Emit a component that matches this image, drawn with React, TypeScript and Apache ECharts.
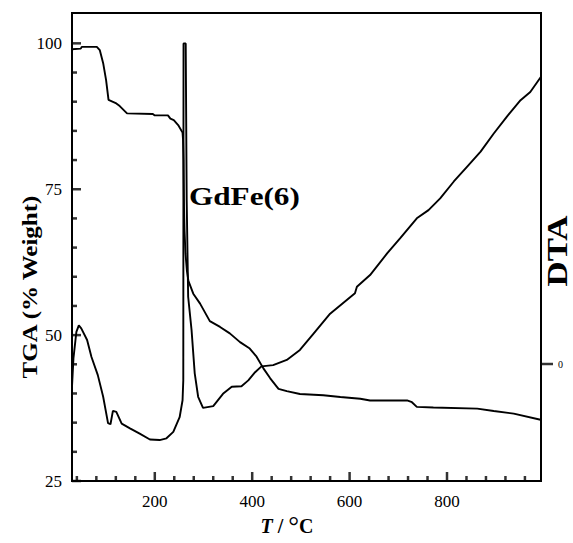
import { useEffect, useRef } from "react";
import * as echarts from "echarts";

const SERIF = "'Liberation Serif', 'Times New Roman', serif";

// Temperature axis ticks (°C)
const xMajorTicks = [200, 400, 600, 800];
const xMinorTicks = [40, 80, 120, 160, 240, 280, 320, 360, 440, 480, 520, 560, 640, 680, 720, 760, 840, 880, 920, 960];

// TGA axis ticks (% weight)
const tgaMajorTicks = [25, 50, 75, 100];
const tgaMinorTicks = [30, 35, 40, 45, 55, 60, 65, 70, 80, 85, 90, 95];

// DTA axis ticks (arbitrary units)
const dtaTicks = [0];

// TGA curve: temperature (°C) and remaining weight (%)
const tgaTemp = [
  30, 48, 50, 81, 87, 94, 100, 105, 121, 128, 143, 196, 200, 227, 232, 239, 248, 257,
  258, 259, 259.5, 260, 261, 263, 266, 269, 279, 293, 313, 334, 354, 375, 395, 409,
  423, 437, 454, 471, 498, 546, 581, 622, 642, 718, 728, 738, 772, 862, 896, 937, 992,
];
const tgaWeight = [
  99.0, 99.1, 99.4, 99.4, 98.85, 96.6, 93.7, 90.3, 89.7, 89.25, 88.0, 87.9, 87.65, 87.65, 87.1, 86.85, 86.0, 84.7,
  83.5, 80.0, 76.0, 72.0, 68.0, 64.0, 61.0, 59.3, 57.1, 55.4, 52.4, 51.4, 50.3, 48.8, 47.7, 46.3,
  44.3, 42.6, 40.8, 40.4, 39.9, 39.7, 39.4, 39.1, 38.8, 38.8, 38.5, 37.7, 37.6, 37.4, 37.0, 36.55, 35.5,
];

// DTA curve: temperature (°C) and signal (arb. units)
const dtaTemp = [
  30, 33, 37, 39, 44, 49, 61, 70, 83, 94, 104, 109, 114, 121, 132, 149, 169, 190, 210, 224,
  238, 251, 257, 258.5, 259, 263.5, 265.5, 268.5, 275.5, 282, 289, 299, 320, 340, 358, 378,
  392, 406, 419, 443, 471, 498, 526, 560, 611, 615, 642, 677, 704, 738, 762, 786, 814, 841,
  869, 896, 923, 951, 971, 993,
];
const dtaSignal = [
  -3.9, 1.0, 4.0, 5.5, 6.6, 6.1, 4.1, 1.2, -1.9, -5.6, -10.1, -10.3, -8.0, -8.2, -10.2, -11.0, -11.9, -12.9, -13.0, -12.7,
  -11.6, -9.1, -6.2, -2.8, 54.8, 54.8, 28.0, 11.5, 5.8, -1.6, -5.6, -7.5, -7.2, -5.1, -3.9, -3.8,
  -2.8, -1.4, -0.4, -0.2, 0.7, 2.4, 5.2, 8.6, 12.1, 13.2, 15.2, 18.9, 21.5, 24.9, 26.3, 28.3, 31.2, 33.7,
  36.3, 39.4, 42.3, 45.1, 46.5, 49.1,
];

const pairs = (xs: number[], ys: number[]) => xs.map((x, i) => [x, ys[i]]);

const BLACK = "#000";
const X_MIN = 30;
const X_MAX = 993;
const TGA_MIN = 25;
const TGA_MAX = 105.2;
const DTA_MIN = -20;
const DTA_MAX = 60;

type TickSide = "bottom" | "left" | "right";

// Tick marks as thin rectangle symbols anchored on the axis lines,
// placed through the axes' own scales and pushed to one side of the line.
function tickSeries(values: number[], side: TickSide, length: number) {
  const data = values.map((v) =>
    side === "bottom" ? [v, TGA_MIN] : side === "left" ? [X_MIN, v] : [X_MAX, v]
  );
  const vertical = side === "bottom";
  const thickness = 2.5;
  return {
    type: "scatter",
    xAxisIndex: 0,
    yAxisIndex: side === "right" ? 2 : 0,
    clip: false,
    silent: true,
    z: 5,
    data,
    symbol: "rect",
    symbolSize: vertical ? [thickness, length] : [length, thickness],
    symbolOffset: vertical ? [0, -length / 2] : [length / 2, 0],
    itemStyle: { color: BLACK },
  };
}

export default function App() {
  const ref = useRef<HTMLDivElement>(null);

  useEffect(() => {
    if (!ref.current) return;
    const chart = echarts.init(ref.current, undefined, { renderer: "svg" });

    const noSplit = { show: false };
    const noTick = { show: false };

    chart.setOption({
      animation: false,
      backgroundColor: "#fff",
      grid: {
        left: 72,
        right: 32,
        top: 13,
        bottom: 62,
        show: true,
        borderColor: BLACK,
        borderWidth: 2,
        backgroundColor: "transparent",
      },
      xAxis: [
        {
          type: "value",
          min: X_MIN,
          max: X_MAX,
          position: "bottom",
          axisLine: { show: true, onZero: false, lineStyle: { color: BLACK, width: 2 } },
          axisTick: noTick,
          axisLabel: {
            customValues: xMajorTicks,
            color: BLACK,
            fontFamily: SERIF,
            fontSize: 17,
            margin: 12,
          },
          splitLine: noSplit,
        },
      ],
      yAxis: [
        {
          type: "value",
          min: TGA_MIN,
          max: TGA_MAX,
          position: "left",
          axisLine: { show: true, onZero: false, lineStyle: { color: BLACK, width: 2 } },
          axisTick: noTick,
          axisLabel: {
            customValues: tgaMajorTicks,
            color: BLACK,
            fontFamily: SERIF,
            fontSize: 17,
            margin: 10,
          },
          splitLine: noSplit,
        },
        {
          type: "value",
          min: TGA_MIN,
          max: TGA_MAX,
          position: "left",
          show: false,
        },
        {
          type: "value",
          min: DTA_MIN,
          max: DTA_MAX,
          position: "right",
          axisLine: { show: true, onZero: false, lineStyle: { color: BLACK, width: 2 } },
          axisTick: noTick,
          axisLabel: {
            customValues: dtaTicks,
            color: BLACK,
            fontFamily: SERIF,
            fontSize: 10,
            margin: 17,
          },
          splitLine: noSplit,
        },
      ],
      series: [
        {
          name: "TGA",
          type: "line",
          xAxisIndex: 0,
          yAxisIndex: 0,
          data: pairs(tgaTemp, tgaWeight),
          showSymbol: false,
          symbol: "none",
          lineStyle: { color: BLACK, width: 1.9 },
          z: 3,
        },
        {
          name: "DTA",
          type: "line",
          xAxisIndex: 0,
          yAxisIndex: 2,
          data: pairs(dtaTemp, dtaSignal),
          showSymbol: false,
          symbol: "none",
          lineStyle: { color: BLACK, width: 1.9 },
          z: 3,
        },
        tickSeries(xMajorTicks, "bottom", 9),
        tickSeries(xMinorTicks, "bottom", 5),
        tickSeries(tgaMajorTicks, "left", 9),
        tickSeries(tgaMinorTicks, "left", 5),
        tickSeries(dtaTicks, "right", 12),
      ],
      graphic: [
        {
          type: "text",
          x: 189,
          y: 196,
          scaleX: 1.2,
          style: {
            text: "GdFe(6)",
            fontFamily: SERIF,
            fontWeight: "bold",
            fontSize: 26,
            fill: BLACK,
            align: "left",
            verticalAlign: "middle",
          },
        },
        {
          type: "text",
          x: 557,
          y: 251,
          rotation: Math.PI / 2,
          scaleX: 1.2,
          style: {
            text: "DTA",
            fontFamily: SERIF,
            fontWeight: "bold",
            fontSize: 29,
            lineHeight: 22,
            fill: BLACK,
            align: "center",
            verticalAlign: "middle",
          },
        },
        {
          type: "text",
          x: 30,
          y: 287,
          rotation: Math.PI / 2,
          scaleX: 1.25,
          style: {
            text: "TGA (% Weight)",
            fontFamily: SERIF,
            fontWeight: "bold",
            fontSize: 20,
            fill: BLACK,
            align: "center",
            verticalAlign: "middle",
          },
        },
        {
          type: "text",
          x: 287,
          y: 526,
          style: {
            text: "{it|T} / {deg|°}C",
            fontFamily: SERIF,
            fontWeight: "bold",
            fontSize: 20,
            fill: BLACK,
            align: "center",
            verticalAlign: "middle",
            rich: {
              it: { fontFamily: SERIF, fontWeight: "bold", fontStyle: "italic", fontSize: 20 },
              deg: { fontFamily: SERIF, fontWeight: "normal", fontSize: 27, verticalAlign: "top" },
            },
          },
        },
      ],
    });

    return () => chart.dispose();
  }, []);

  return (
    <div
      ref={ref}
      style={{ position: "fixed", left: 0, top: 0, width: 573, height: 543, background: "#fff" }}
    />
  );
}
